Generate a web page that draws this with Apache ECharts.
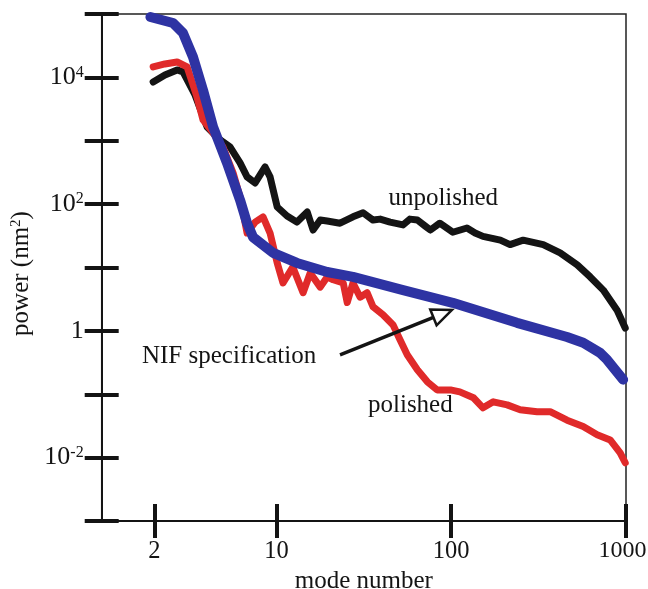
<!DOCTYPE html>
<html><head><meta charset="utf-8">
<script src="https://cdn.jsdelivr.net/npm/echarts@6/dist/echarts.min.js"></script>
<style>html,body{margin:0;padding:0;background:#fff}#c{width:648px;height:589px}</style>
</head><body><div id="c"></div>
<script>
// ---- data ----
const modesUnpolished = [1.97,2.3,2.7,2.92,3.42,4.01,4.76,5.42,6.19,6.79,7.55,8.61,9.19,10.1,11.5,13.1,15.0,16.2,17.8,19.5,23.1,27.4,31.3,35.7,39.2,44.7,53,58,64,71,76,86,102,123,137,152,191,217,258,336,420,526,624,741,891,990];
const powerUnpolished = [8450,10900,13100,12200,5270,1650,1030,798,447,269,216,386,269,90,65,52,75,39,56,54,50,63,73,56,58,52,47,58,56,45,39,50,36,42,35,31,27,23,27,23,17,11,7.1,4.4,2.1,1.11];

const modesPolished = [1.97,2.3,2.7,3.08,3.51,3.8,4.34,4.94,5.65,6.19,6.79,7.55,8.38,9.19,10.1,10.9,12.4,14.2,15.6,17.8,19.5,21.1,24.1,25.4,27.4,30.1,33,35.7,40.7,46.5,51,56,64,73,83,99,112,134,152,174,209,248,310,368,460,569,684,812,926,990];
const powerPolished = [14600,16300,17500,14600,4900,2130,1330,798,310,130,35,52,63,35,11.8,5.7,10.2,4.0,8.2,4.9,7.1,6.4,5.7,2.8,5.7,3.4,4.0,2.4,1.8,1.24,0.72,0.42,0.243,0.157,0.117,0.117,0.109,0.088,0.061,0.076,0.068,0.057,0.053,0.053,0.039,0.031,0.023,0.019,0.0119,0.0083];

const modesNIF = [1.9,2.56,2.92,3.33,3.8,4.34,5.21,6.19,6.79,7.35,9.57,13.1,19.5,27.4,53,102,238,460,569,711,780,963];
const powerNIF = [89700,72000,50000,21000,6300,1650,447,116,50,30,17,11.8,8.5,7.1,4.4,2.77,1.34,0.80,0.65,0.45,0.35,0.17];

const xTickValues = [2,10,100,1000];
const yTickValues = [0.001,0.01,0.1,1,10,100,1000,10000,100000];
const yLabelValues = [0.01,1,100,10000];

// annotations (data coordinates)
const labelUnpolished = {text:'unpolished', at:[90,121]};
const labelNIF = {text:'NIF specification', at:[1.70,0.39]};
const labelPolished = {text:'polished', at:[33.4,0.066]};
const arrowFrom = [23.1,0.418];
const arrowTo = [101,2.14];

// ---- chart ----
const FONT = "'Liberation Serif','Times New Roman',serif";
const INK = '#141414';
const zip = (a,b) => a.map((v,i)=>[v,b[i]]);

const chart = echarts.init(document.getElementById('c'), null, {renderer:'canvas'});

function yFmt(v){
  if (Math.abs(v-1) < 1e-9) return '{n|1}';
  const e = Math.round(Math.log10(v));
  return '{n|10}{s|' + e + '}';
}
function xFmt(v){
  const s = String(Math.round(v));
  return s === '1000' ? '{r|' + s + '}' : '{n|' + s + '}';
}

const tickStyle = {color: INK, width: 4};

chart.setOption({
  backgroundColor:'#fff',
  animation:false,
  grid:{left:101.7, right:22, top:14, bottom:68, show:true, borderColor:'#222', borderWidth:1.5,
    containLabel:false, outerBoundsMode:'none'},
  xAxis:[{
    type:'log', logBase:10, min:1, max:1000,
    name:'mode number', nameLocation:'middle', nameGap:37,
    nameTextStyle:{fontFamily:FONT, fontSize:25, color:INK},
    axisLine:{show:true, lineStyle:{color:INK, width:2}},
    axisTick:{show:true, inside:false, length:17, customValues:xTickValues, lineStyle:tickStyle},
    axisLabel:{show:true, margin:18, customValues:xTickValues, formatter:xFmt,
      rich:{n:{fontFamily:FONT, fontSize:24.5, color:INK}, r:{fontFamily:FONT, fontSize:24, color:INK, padding:[0,7,0,0]}}},
    splitLine:{show:false}, minorTick:{show:false}
  },{
    type:'log', logBase:10, min:1, max:1000, position:'bottom',
    axisLine:{show:false},
    axisTick:{show:true, inside:true, length:17, customValues:xTickValues, lineStyle:tickStyle},
    axisLabel:{show:false}, splitLine:{show:false}
  }],
  yAxis:[{
    type:'log', logBase:10, min:0.001, max:100000,
    name:'{a|power (nm}{s|2}{e|)}', nameLocation:'middle', nameGap:54, nameRotate:90,
    nameTextStyle:{rich:{
      a:{fontFamily:FONT, fontSize:25, color:INK},
      s:{fontFamily:FONT, fontSize:15, color:INK, verticalAlign:'top'},
      e:{fontFamily:FONT, fontSize:25, color:INK, padding:[0,12,0,0]}}},
    axisLine:{show:true, lineStyle:{color:INK, width:2}},
    axisTick:{show:true, inside:false, length:17, customValues:yTickValues, lineStyle:tickStyle},
    axisLabel:{show:true, margin:18, customValues:yLabelValues, formatter:yFmt,
      rich:{n:{fontFamily:FONT, fontSize:26, color:INK}, s:{fontFamily:FONT, fontSize:16, color:INK, verticalAlign:'top'}}},
    splitLine:{show:false}, minorTick:{show:false}
  },{
    type:'log', logBase:10, min:0.001, max:100000, position:'left',
    axisLine:{show:false},
    axisTick:{show:true, inside:true, length:17, customValues:yTickValues, lineStyle:tickStyle},
    axisLabel:{show:false}, splitLine:{show:false}
  }],
  series:[
    {name:'unpolished', type:'line', data:zip(modesUnpolished,powerUnpolished), showSymbol:false, symbol:'none',
      lineStyle:{color:'#141414', width:7, cap:'round', join:'round'}, z:2},
    {name:'polished', type:'line', data:zip(modesPolished,powerPolished), showSymbol:false, symbol:'none',
      lineStyle:{color:'#e02a2a', width:7, cap:'round', join:'round'}, z:3},
    {name:'NIF specification', type:'line', data:zip(modesNIF,powerNIF), showSymbol:false, symbol:'none',
      lineStyle:{color:'#2e33a3', width:10, cap:'round', join:'round'}, z:4}
  ]
});

// annotations placed through the chart's own scales
const px = p => chart.convertToPixel({xAxisIndex:0, yAxisIndex:0}, p);
const txt = (lab, align) => {
  const p = px(lab.at);
  return {type:'text', x:p[0], y:p[1], z:10,
    style:{text:lab.text, font:'25px '+FONT, fill:INK, textAlign:align, textVerticalAlign:'middle'}};
};
const a0 = px(arrowFrom), a1 = px(arrowTo);
const dx = a1[0]-a0[0], dy = a1[1]-a0[1], L = Math.hypot(dx,dy);
const ux = dx/L, uy = dy/L, headLen = 20, headHalf = 8.5;
const base = [a1[0]-ux*headLen, a1[1]-uy*headLen];
const h1 = [base[0]-uy*headHalf, base[1]+ux*headHalf];
const h2 = [base[0]+uy*headHalf, base[1]-ux*headHalf];

chart.setOption({graphic:[
  txt(labelUnpolished,'center'),
  txt(labelNIF,'left'),
  txt(labelPolished,'left'),
  {type:'line', z:10, shape:{x1:a0[0], y1:a0[1], x2:base[0], y2:base[1]}, style:{stroke:INK, lineWidth:3.5}},
  {type:'polygon', z:10, shape:{points:[a1,h1,h2]}, style:{fill:'#fff', stroke:INK, lineWidth:2.5, lineJoin:'miter'}}
]});
</script></body></html>
